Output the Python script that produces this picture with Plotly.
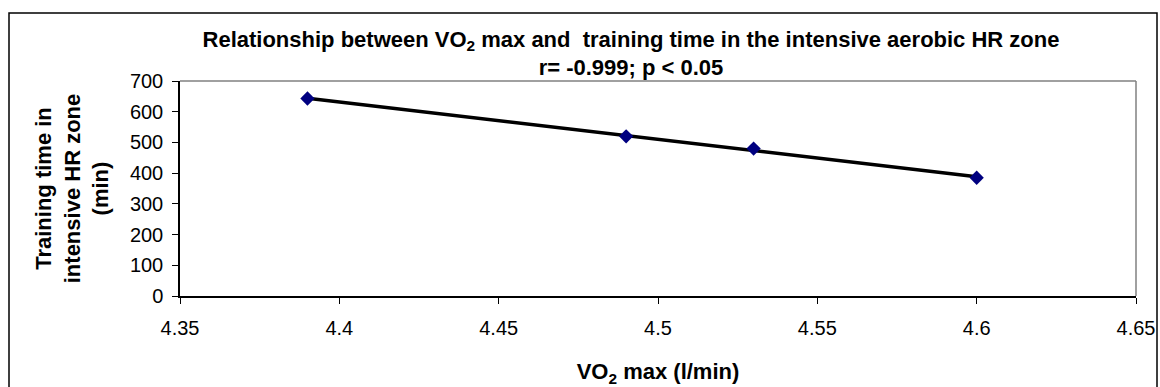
import numpy as np
import plotly.graph_objects as go

# Data
vo2_max = [4.39, 4.49, 4.53, 4.60]
training_time = [643, 520, 480, 385]

x_tick_vals = [4.35, 4.40, 4.45, 4.50, 4.55, 4.60, 4.65]
x_tick_text = ["4.35", "4.4", "4.45", "4.5", "4.55", "4.6", "4.65"]
y_tick_vals = [0, 100, 200, 300, 400, 500, 600, 700]

# Linear trend line from the data
slope, intercept = np.polyfit(vo2_max, training_time, 1)
trend_x = [min(vo2_max), max(vo2_max)]
trend_y = [slope * v + intercept for v in trend_x]

FONT = "Liberation Sans, Arial, sans-serif"

fig = go.Figure()
fig.add_trace(go.Scatter(
    x=trend_x, y=trend_y, mode="lines",
    line=dict(color="black", width=3.5),
    hoverinfo="skip", showlegend=False,
))
fig.add_trace(go.Scatter(
    x=vo2_max, y=training_time, mode="markers",
    marker=dict(symbol="diamond", size=11, color="#000080"),
    showlegend=False,
))

W, H = 1160, 387
PL, PR, PT, PB = 180, 1136, 81, 296  # plot area in pixels
L, R, T, B = PL, W - PR, PT, H - PB

def px_x(p):
    return (p - PL) / (PR - PL)

def px_y(p):
    return (PB - p) / (PB - PT)

fig.update_layout(
    width=W, height=H,
    margin=dict(l=L, r=R, t=T, b=B, autoexpand=False),
    paper_bgcolor="white", plot_bgcolor="white",
    font=dict(family=FONT, color="black", size=20),
    title=dict(
        text="<b>Relationship between VO<sub>2</sub> max and  training time in the intensive aerobic HR zone<br>r= -0.999; p &lt; 0.05</b>",
        x=631 / W, xanchor="center",
        y=1 - 46.5 / H, yanchor="top",
        font=dict(family=FONT, size=22, color="black"),
    ),
    xaxis=dict(
        range=[4.35, 4.65],
        tickvals=x_tick_vals, ticktext=x_tick_text,
        showgrid=False, zeroline=False, automargin=False,
        showline=True, linecolor="black", linewidth=1.5,
        ticks="outside", ticklen=6, tickcolor="black",
        ticklabelstandoff=7,
        tickfont=dict(size=20),
        title=dict(text="<b>VO<sub>2</sub> max (l/min)</b>", font=dict(size=22), standoff=34),
    ),
    yaxis=dict(
        range=[0, 700],
        tickvals=y_tick_vals,
        showgrid=False, zeroline=False, automargin=False,
        showline=True, linecolor="black", linewidth=1.5,
        ticks="outside", ticklen=6, tickcolor="black",
        ticklabelstandoff=5,
        tickfont=dict(size=20),
        title=dict(text="<b>Training time in<br>intensive HR zone<br>(min)</b>", font=dict(size=22), standoff=15),
    ),
    shapes=[
        # gray plot-area border (top and right)
        dict(type="line", xref="paper", yref="paper", x0=0, x1=1, y0=1, y1=1,
             line=dict(color="#808080", width=1.5), layer="below"),
        dict(type="line", xref="paper", yref="paper", x0=1, x1=1, y0=0, y1=1,
             line=dict(color="#808080", width=1.5), layer="below"),
        # outer chart frame
        dict(type="rect", xref="paper", yref="paper",
             x0=px_x(9), x1=px_x(1157), y0=px_y(420), y1=px_y(13),
             line=dict(color="black", width=1.5), fillcolor="rgba(0,0,0,0)"),
    ],
)

fig.write_html("out.html", config={"displayModeBar": False},
               post_script="document.body.style.margin='0';")
